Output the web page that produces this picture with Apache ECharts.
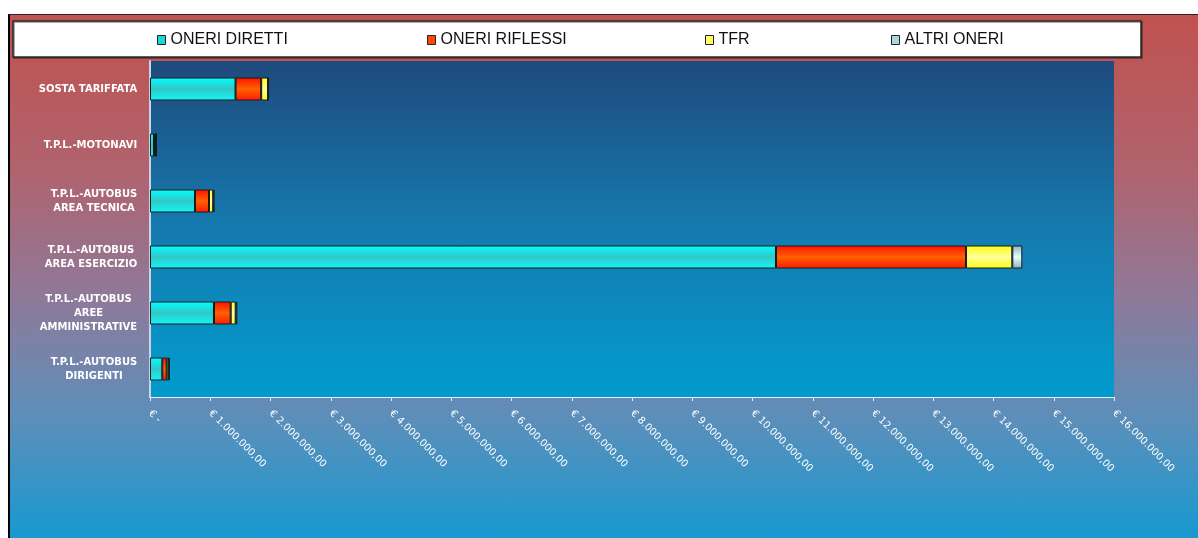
<!DOCTYPE html>
<html lang="it">

<head>
    <meta charset="UTF-8">
    <title>Oneri per area</title>
    <script src="https://cdn.jsdelivr.net/npm/echarts@6/dist/echarts.min.js"></script>
    <style>
        body {
            margin: 0;
            padding: 0;
            background: #fff;
        }

        #sfondo {
            position: absolute;
            left: 8px;
            top: 14px;
            width: 1190px;
            height: 524px;
            box-sizing: border-box;
            border-left: 2px solid #000;
            border-top: 1px solid #3a1a1a;
            background: linear-gradient(to bottom, #c0524f 0%, #b0636e 30%, #8d7a9b 55%, #5a8fbb 78%, #1799d0 100%);
        }

        #chartContainer {
            position: absolute;
            left: 0;
            top: 0;
            width: 1198px;
            height: 538px;
        }
    </style>
</head>

<body>
    <div id="sfondo"></div>
    <div id="chartContainer"></div>

    <script>
        // categorie (dall'alto verso il basso)
        var categorie = [
            'SOSTA TARIFFATA',
            'T.P.L.-MOTONAVI',
            'T.P.L.-AUTOBUS\nAREA TECNICA',
            'T.P.L.-AUTOBUS\nAREA ESERCIZIO',
            'T.P.L.-AUTOBUS\nAREE\nAMMINISTRATIVE',
            'T.P.L.-AUTOBUS\nDIRIGENTI'
        ];
        // valori in euro
        var oneriDiretti = [1420000, 66000, 747000, 10390000, 1062000, 204000];
        var oneriRiflessi = [425000, 25000, 232000, 3154000, 277000, 73000];
        var tfr = [115000, 10000, 70000, 768000, 83000, 35000];
        var altriOneri = [5000, 5000, 20000, 166000, 27000, 15000];

        var nomiSerie = ['ONERI DIRETTI', 'ONERI RIFLESSI', 'TFR', 'ALTRI ONERI'];
        var xTicks = { min: 0, max: 16000000, step: 1000000 };

        var myChart = echarts.init(document.getElementById('chartContainer'));

        // gradiente verticale per le barre
        function grad(a, b, c) {
            return new echarts.graphic.LinearGradient(0, 0, 0, 1, [
                { offset: 0, color: a },
                { offset: 0.5, color: b },
                { offset: 1, color: c }
            ]);
        }

        function euro(v) {
            if (v === 0) return '€ -';
            var s = String(Math.round(v)).replace(/\B(?=(\d{3})+(?!\d))/g, '.');
            return '€ ' + s + ',00';
        }

        // larghezza della riga più lunga, per centrare le righe dentro l'etichetta
        var ctx = document.createElement('canvas').getContext('2d');
        ctx.font = 'bold 10px "DejaVu Sans"';
        var rich = {};
        categorie.forEach((c, i) => {
            var w = 0;
            c.split('\n').forEach(r => { w = Math.max(w, ctx.measureText(r).width); });
            rich['c' + i] = {
                width: Math.ceil(w) + 1,
                align: 'center',
                color: '#fff',
                fontSize: 10,
                fontWeight: 'bold',
                fontFamily: 'DejaVu Sans',
                lineHeight: 14
            };
        });

        var stili = [
            { color: grad('#00ffff', '#33c8c8', '#10f6f6'), legenda: '#1fd6d6' },
            { color: grad('#ff1000', '#ff6200', '#ff1a00'), legenda: '#ff4a00' },
            { color: grad('#ffff10', '#ffff99', '#ffff10'), legenda: '#ffff66' },
            { color: grad('#8bb0b8', '#e4ffff', '#8bb0b8'), legenda: '#a8d8dc' }
        ];
        var valori = [oneriDiretti, oneriRiflessi, tfr, altriOneri];

        var series = nomiSerie.map((nome, i) => ({
            name: nome,
            type: 'bar',
            stack: 'tot',
            barWidth: 23,
            data: valori[i],
            itemStyle: {
                color: stili[i].color,
                borderColor: '#1a1a1a',
                borderWidth: 1
            },
            emphasis: { disabled: true }
        }));

        var legendX = [157, 427, 705, 891];
        var legends = nomiSerie.map((nome, i) => ({
            left: legendX[i],
            top: 32,
            padding: 0,
            icon: 'rect',
            itemWidth: 8,
            itemHeight: 9,
            selectedMode: false,
            data: [{
                name: nome,
                itemStyle: { color: stili[i].legenda, borderColor: '#222', borderWidth: 1 }
            }],
            textStyle: {
                color: '#111',
                fontSize: 16,
                fontFamily: 'Liberation Sans'
            }
        }));

        myChart.setOption({
            animation: false,
            backgroundColor: 'transparent',
            graphic: [{
                type: 'rect',
                z: 0,
                shape: { x: 13, y: 21, width: 1128, height: 36 },
                style: {
                    fill: '#fff',
                    stroke: '#2a2a2a',
                    lineWidth: 1.5,
                    shadowColor: 'rgba(0,0,0,0.45)',
                    shadowOffsetX: 1,
                    shadowOffsetY: 1
                }
            }],
            legend: legends,
            grid: {
                left: 150,
                top: 61,
                right: 84,
                bottom: 141,
                show: true,
                borderWidth: 0,
                backgroundColor: new echarts.graphic.LinearGradient(0, 0, 0, 1, [
                    { offset: 0, color: '#1f4a7d' },
                    { offset: 0.5, color: '#157aae' },
                    { offset: 0.9, color: '#0596c9' },
                    { offset: 1, color: '#009acc' }
                ])
            },
            xAxis: {
                type: 'value',
                min: xTicks.min,
                max: xTicks.max,
                interval: xTicks.step,
                axisLine: { show: true, lineStyle: { color: '#e6f2fa', width: 1 } },
                axisTick: { show: true, length: 4, lineStyle: { color: '#dde8f0' } },
                splitLine: { show: false },
                axisLabel: {
                    rotate: -45,
                    margin: 15,
                    color: '#fff',
                    fontSize: 10,
                    fontFamily: 'DejaVu Sans',
                    formatter: euro
                }
            },
            yAxis: {
                type: 'category',
                inverse: true,
                data: categorie,
                axisLine: { show: true, lineStyle: { color: '#c9d3e2', width: 2 } },
                axisTick: { show: false },
                axisLabel: {
                    margin: 12,
                    rich: rich,
                    formatter: function (val, idx) {
                        return val.split('\n').map(r => '{c' + idx + '|' + r + '}').join('\n');
                    }
                }
            },
            series: series
        });
    </script>
</body>

</html>
